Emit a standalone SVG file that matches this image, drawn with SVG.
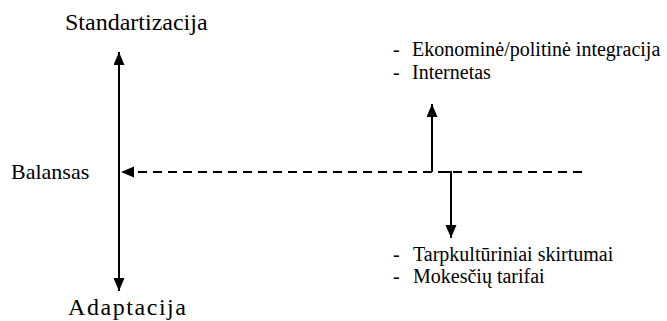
<svg xmlns="http://www.w3.org/2000/svg" width="667" height="321" viewBox="0 0 667 321">
<defs>
<marker id="ah" markerUnits="userSpaceOnUse" markerWidth="14" markerHeight="12" refX="13" refY="5.5" orient="auto">
<path d="M0,0 L13,5.5 L0,11 Z" fill="#000"/>
</marker>
<style>
text{font-family:'Liberation Serif','Times New Roman',serif;fill:#000}
.big{font-size:24px}
.mid{font-size:22px}
.sm{font-size:20px}
.ln{stroke:#000;stroke-width:2;fill:none}
.dash{stroke-dasharray:9 6}
</style>
</defs>
<rect width="667" height="321" fill="#fff"/>
<g id="connectors">
<line class="ln" x1="119" y1="172" x2="119" y2="52" marker-end="url(#ah)"/>
<line class="ln" x1="119" y1="172" x2="119" y2="291" marker-end="url(#ah)"/>
<line class="ln dash" x1="582" y1="172" x2="121" y2="172" marker-end="url(#ah)"/>
<line class="ln" x1="432" y1="172" x2="432" y2="104" marker-end="url(#ah)"/>
<path class="ln" d="M445,172 H451 V238" marker-end="url(#ah)"/>
</g>
<g id="standartizacija"><text class="big" x="65" y="30">Standartizacija</text></g>
<g id="balansas"><text class="mid" x="11" y="179">Balansas</text></g>
<g id="adaptacija"><text class="big" x="68" y="315" textLength="118" lengthAdjust="spacing">Adaptacija</text></g>
<g id="factors-up">
<text class="sm" x="393" y="56">-</text><text class="sm" x="412" y="56">Ekonominė/politinė integracija</text>
<text class="sm" x="393" y="79">-</text><text class="sm" x="412" y="79">Internetas</text>
</g>
<g id="factors-down">
<text class="sm" x="393" y="261">-</text><text class="sm" x="413" y="261">Tarpkultūriniai skirtumai</text>
<text class="sm" x="393" y="283">-</text><text class="sm" x="413" y="283">Mokesčių tarifai</text>
</g>
</svg>
